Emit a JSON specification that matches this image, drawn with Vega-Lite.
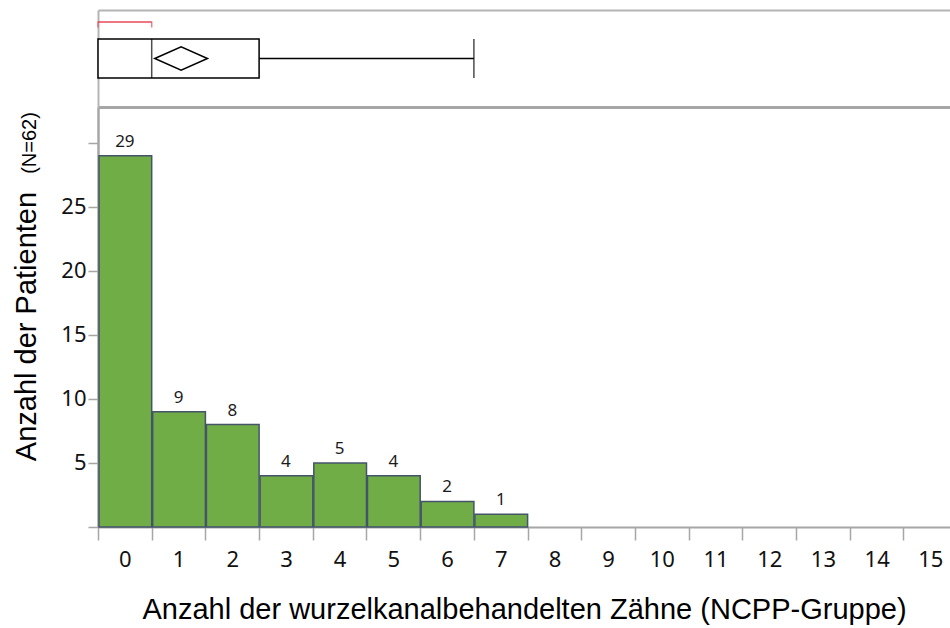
{
  "$schema": "https://vega.github.io/schema/vega-lite/v6.json",
  "padding": {"left": 12, "top": 10, "right": 0, "bottom": 6},
  "background": "white",
  "bounds": "flush",
  "spacing": 0,
  "config": {"view": {"stroke": null}, "axis": {"grid": false}},
  "datasets": {
    "hist": [
      {"lo": 0, "hi": 1, "n": 29},
      {"lo": 1, "hi": 2, "n": 9},
      {"lo": 2, "hi": 3, "n": 8},
      {"lo": 3, "hi": 4, "n": 4},
      {"lo": 4, "hi": 5, "n": 5},
      {"lo": 5, "hi": 6, "n": 4},
      {"lo": 6, "hi": 7, "n": 2},
      {"lo": 7, "hi": 8, "n": 1}
    ],
    "box": [
      {"group": "NCPP", "q1": 0, "median": 1, "q3": 3, "max": 7, "mean": 1.548, "short_lo": 0, "short_hi": 1}
    ]
  },
  "vconcat": [
    {
      "width": 852,
      "height": 97,
      "data": {"name": "box"},
      "encoding": {
        "y": {"field": "group", "type": "nominal",
              "scale": {"paddingInner": 0, "paddingOuter": 0},
              "axis": {"title": null, "labels": false, "ticks": false, "domainColor": "#b4b4b4", "domainWidth": 2}}
      },
      "layer": [
        {
          "mark": {"type": "bar", "size": 39, "fill": "white", "stroke": "black", "strokeWidth": 1.5},
          "encoding": {
            "x": {"field": "q1", "type": "quantitative",
                  "scale": {"domain": [0, 15.866], "nice": false, "zero": false},
                  "axis": {"orient": "top", "title": null, "labels": false, "ticks": false, "domainColor": "#b4b4b4", "domainWidth": 2}},
            "x2": {"field": "q3"}
          }
        },
        {
          "mark": {"type": "rule", "stroke": "black", "strokeWidth": 1.5},
          "encoding": {
            "x": {"field": "q3", "type": "quantitative",
                  "axis": {"orient": "bottom", "title": null, "labels": false, "ticks": false, "domainColor": "#a6a6a6", "domainWidth": 3}},
            "x2": {"field": "max"}
          }
        },
        {
          "mark": {"type": "tick", "size": 39, "thickness": 1.5, "color": "black", "orient": "vertical"},
          "encoding": {"x": {"field": "median", "type": "quantitative", "axis": null}}
        },
        {
          "mark": {"type": "tick", "size": 39, "thickness": 1.5, "color": "black", "orient": "vertical"},
          "encoding": {"x": {"field": "max", "type": "quantitative", "axis": null}}
        },
        {
          "mark": {"type": "point", "shape": "M-1,0L0,-0.44L1,0L0,0.44Z", "size": 2777, "filled": false, "stroke": "black", "strokeWidth": 1.5, "opacity": 1},
          "encoding": {"x": {"field": "mean", "type": "quantitative", "axis": null}}
        },
        {
          "mark": {"type": "rule", "stroke": "#e8475a", "strokeWidth": 1.5, "yOffset": -36.5},
          "encoding": {
            "x": {"field": "short_lo", "type": "quantitative", "axis": null},
            "x2": {"field": "short_hi"}
          }
        },
        {
          "mark": {"type": "tick", "size": 6, "thickness": 1.5, "color": "#e8475a", "orient": "vertical", "yOffset": -34},
          "encoding": {"x": {"field": "short_lo", "type": "quantitative", "axis": null}}
        },
        {
          "mark": {"type": "tick", "size": 6, "thickness": 1.5, "color": "#e8475a", "orient": "vertical", "yOffset": -34},
          "encoding": {"x": {"field": "short_hi", "type": "quantitative", "axis": null}}
        }
      ],
      "resolve": {"axis": {"x": "independent"}}
    },
    {
      "width": 852,
      "height": 420,
      "data": {"name": "hist"},
      "layer": [
        {
          "mark": {"type": "bar", "fill": "#70ad47", "stroke": "#44546a", "strokeWidth": 1.5},
          "encoding": {
            "x": {"field": "lo", "type": "quantitative", "bin": {"binned": true},
                  "scale": {"domain": [0, 15.866], "nice": false, "zero": false},
                  "axis": {"orient": "bottom", "values": [0,1,2,3,4,5,6,7,8,9,10,11,12,13,14,15],
                           "labels": false, "tickSize": 13, "tickColor": "#a6a6a6", "tickWidth": 1.5,
                           "domainColor": "#a6a6a6", "domainWidth": 2, "title": null}},
            "x2": {"field": "hi"},
            "y": {"field": "n", "type": "quantitative",
                  "scale": {"domain": [0, 32.8], "nice": false},
                  "axis": {"values": [0,5,10,15,20,25,30],
                           "labelExpr": "datum.value == 0 || datum.value == 30 ? '' : datum.label",
                           "tickSize": 10, "tickColor": "#a6a6a6", "tickWidth": 1.5,
                           "domainColor": "#a6a6a6", "domainWidth": 2.5,
                           "labelFont": "Noto Sans", "labelFontSize": 22, "labelColor": "#111111", "labelPadding": 2,
                           "title": "Anzahl der Patienten", "titleFont": "Liberation Sans", "titleFontSize": 29,
                           "titleFontWeight": "normal", "titleColor": "#000000",
                           "titleX": -63, "titleY": 219, "titleAngle": -90, "titleAlign": "center", "titleBaseline": "alphabetic"}}
          }
        },
        {
          "mark": {"type": "text", "dy": -9, "xOffset": 26.85, "baseline": "alphabetic", "font": "Noto Sans", "fontSize": 17, "color": "#1a1a1a"},
          "encoding": {
            "x": {"field": "lo", "type": "quantitative",
                  "axis": {"orient": "bottom", "values": [0.5,1.5,2.5,3.5,4.5,5.5,6.5,7.5,8.5,9.5,10.5,11.5,12.5,13.5,14.5,15.5],
                           "ticks": false, "tickSize": 0, "domain": false,
                           "labelExpr": "floor(datum.value) + ''",
                           "labelFont": "Noto Sans", "labelFontSize": 22, "labelColor": "#111111", "labelPadding": 22,
                           "labelFlush": false, "labelOverlap": false,
                           "title": "Anzahl der wurzelkanalbehandelten Zähne (NCPP-Gruppe)",
                           "titleFont": "Liberation Sans", "titleFontSize": 29, "titleFontWeight": "normal",
                           "titleColor": "#000000", "titlePadding": 25}},
            "y": {"field": "n", "type": "quantitative",
                  "axis": {"orient": "left", "domain": false, "ticks": false, "labels": false,
                           "title": "(N=62)", "titleFont": "Liberation Sans", "titleFontSize": 20,
                           "titleFontWeight": "normal", "titleColor": "#000000",
                           "titleX": -63, "titleY": 35.5, "titleAngle": -90, "titleAlign": "center", "titleBaseline": "alphabetic"}},
            "text": {"field": "n", "type": "quantitative"}
          }
        }
      ],
      "resolve": {"axis": {"x": "independent", "y": "independent"}}
    }
  ]
}
